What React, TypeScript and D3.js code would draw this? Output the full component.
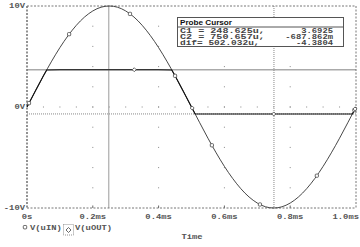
import React from 'react';
import * as d3 from 'd3';

// V(uIN): every 0.025 ms
const tIn = [0, 0.025, 0.05, 0.075, 0.1, 0.125, 0.15, 0.175, 0.2, 0.225, 0.25, 0.275, 0.3, 0.325, 0.35, 0.375, 0.4, 0.425, 0.45, 0.475, 0.5, 0.525, 0.55, 0.575, 0.6, 0.625, 0.65, 0.675, 0.7, 0.725, 0.75, 0.775, 0.8, 0.825, 0.85, 0.875, 0.9, 0.925, 0.95, 0.975, 1.0];
const vIn = [0, 1.56, 3.09, 4.54, 5.88, 7.07, 8.09, 8.91, 9.51, 9.88, 10, 9.88, 9.51, 8.91, 8.09, 7.07, 5.88, 4.54, 3.09, 1.56, 0, -1.56, -3.09, -4.54, -5.88, -7.07, -8.09, -8.91, -9.51, -9.88, -10, -9.88, -9.51, -8.91, -8.09, -7.07, -5.88, -4.54, -3.09, -1.56, 0];
// V(uOUT): clipped trace
const tOut = [0, 0.025, 0.05, 0.06, 0.1, 0.2, 0.3, 0.4, 0.44, 0.45, 0.475, 0.5, 0.511, 0.6, 0.7, 0.8, 0.9, 0.989, 1.0];
const vOut = [0, 1.56, 3.09, 3.66, 3.69, 3.69, 3.69, 3.69, 3.66, 3.09, 1.56, 0, -0.69, -0.69, -0.69, -0.69, -0.69, -0.69, 0];
// markers
const tMarkIn = [0.006, 0.128, 0.313, 0.45, 0.562, 0.708, 0.881, 0.995];
const vMarkIn = [0.38, 7.21, 9.22, 3.09, -3.79, -9.65, -6.8, -0.31];
const tMarkOut = [0.326, 0.502, 0.75, 0.997];
const vMarkOut = [3.69, -0.1, -0.69, -0.19];
// axes
const xTicks = [0, 0.2, 0.4, 0.6, 0.8, 1.0];
const xTickLabels = ['0s', '0.2ms', '0.4ms', '0.6ms', '0.8ms', '1.0ms'];
const yTicks = [10, 0, -10];
const yTickLabels = ['10V', '0V', '-10V'];
// cursors
const c1 = { t: 0.248625, v: 3.6925 };
const c2 = { t: 0.750657, v: -0.687862 };
const cursorRows = [
  ['C1  =  248.625u,', '3.6925'],
  ['C2  =  750.657u,', '-687.862m'],
  ['dif=  502.032u,', '-4.3804'],
];

const W = 360, H = 247;
const L = 27, R = 356, T = 6, B = 208;
const CW = 5.3; // monospace char width
const mono = 'Liberation Mono, DejaVu Sans Mono, monospace';

function MText({ x, y, s, anchor = 'start', fs = 7, fill = '#555', weight = 'bold' }: any) {
  const len = s.length * CW;
  let x0 = x;
  if (anchor === 'middle') x0 = x - len / 2;
  if (anchor === 'end') x0 = x - len;
  return (
    <text x={x0} y={y} fontFamily={mono} fontSize={fs} fontWeight={weight} fill={fill}
      textLength={len} lengthAdjust="spacingAndGlyphs">{s}</text>
  );
}

export default function App() {
  const x = d3.scaleLinear().domain([0, 1]).range([L, R]);
  const y = d3.scaleLinear().domain([-10, 10]).range([B, T]);
  const lineIn = d3.line<number>().x((d, i) => x(tIn[i])).y((d) => y(d)).curve(d3.curveNatural);
  const lineOut = d3.line<number>().x((d, i) => x(tOut[i])).y((d) => y(d));

  const dots: JSX.Element[] = [];
  [0.2, 0.4, 0.6, 0.8].forEach((tv) => {
    d3.range(-8, 9, 2).forEach((vv) => {
      dots.push(<rect key={`v${tv}_${vv}`} x={x(tv) - 0.5} y={y(vv) - 0.5} width={1} height={1} fill="#888" />);
    });
  });
  d3.range(0.05, 1, 0.05).forEach((tv) => {
    dots.push(<rect key={`h${tv}`} x={x(tv) - 0.5} y={y(0) - 0.5} width={1} height={1} fill="#888" />);
  });

  const boxL = 177, boxR = 343, boxT = 17, boxB = 46;

  return (
    <svg width={W} height={H} style={{ position: 'absolute', left: 0, top: 0, background: '#fff' }}>
      <rect x={0} y={0} width={W} height={H} fill="#fff" />
      {dots}
      {xTicks.slice(1, -1).map((tv) => (
        <line key={`bt${tv}`} x1={x(tv)} x2={x(tv)} y1={B} y2={B - 2.5} stroke="#666" strokeWidth={1} />
      ))}
      <line x1={x(c1.t)} x2={x(c1.t)} y1={T} y2={B} stroke="#9a9a9a" strokeWidth={1} />
      <line x1={L} x2={R} y1={y(c1.v)} y2={y(c1.v)} stroke="#aaa" strokeWidth={1.5} />
      <line x1={x(c2.t)} x2={x(c2.t)} y1={T} y2={B} stroke="#888" strokeWidth={1} strokeDasharray="1,1" />
      <line x1={L} x2={R} y1={y(c2.v)} y2={y(c2.v)} stroke="#888" strokeWidth={1} strokeDasharray="1,1" />
      <line x1={L} x2={R} y1={T} y2={T} stroke="#777" strokeWidth={1} strokeDasharray="2,1.5" />
      <line x1={L} x2={R} y1={B} y2={B} stroke="#777" strokeWidth={1} strokeDasharray="2,1.5" />
      <line x1={L} x2={L} y1={T} y2={B} stroke="#777" strokeWidth={1.6} strokeDasharray="2,1.5" />
      <line x1={R} x2={R} y1={T} y2={B} stroke="#777" strokeWidth={1} strokeDasharray="2,1.5" />
      <path d={lineIn(vIn) || ''} fill="none" stroke="#333" strokeWidth={0.9} />
      <path d={lineOut(vOut) || ''} fill="none" stroke="#111" strokeWidth={1.1} />
      {tMarkIn.map((tv, i) => (
        <rect key={`mi${i}`} x={x(tv) - 1.6} y={y(vMarkIn[i]) - 1.6} width={3.2} height={3.2} rx={0.8}
          fill="#fff" stroke="#444" strokeWidth={0.8} />
      ))}
      {tMarkOut.map((tv, i) => {
        const cx = x(tv), cy = y(vMarkOut[i]);
        return <path key={`mo${i}`} d={`M${cx},${cy - 2}L${cx + 2},${cy}L${cx},${cy + 2}L${cx - 2},${cy}Z`}
          fill="#fff" stroke="#444" strokeWidth={0.8} />;
      })}
      {yTicks.map((v, i) => (
        <MText key={`yl${i}`} x={25} y={y(v) + 1.8} s={yTickLabels[i]} anchor="end" />
      ))}
      {xTicks.map((tv, i) => (
        <MText key={`xl${i}`} x={i === xTicks.length - 1 ? 359 : x(tv)} y={219} s={xTickLabels[i]}
          anchor={i === xTicks.length - 1 ? 'end' : 'middle'} />
      ))}
      <MText x={192} y={239} s="Time" anchor="middle" />
      <rect x={23.3} y={225.5} width={3.4} height={3.4} rx={0.8} fill="#fff" stroke="#444" strokeWidth={0.8} />
      <MText x={30} y={230} s="V(uIN)" />
      <rect x={63.5} y={224.5} width={10} height={10.5} fill="none" stroke="#777" strokeWidth={0.8} strokeDasharray="1,1" />
      <path d="M68.5,227.5L71,230L68.5,232.5L66,230Z" fill="#fff" stroke="#444" strokeWidth={0.8} />
      <MText x={75} y={230} s="V(uOUT)" />
      <rect x={boxL + 0.5} y={boxT + 0.5} width={boxR - boxL} height={boxB - boxT} fill="#fff" stroke="#555" strokeWidth={1} />
      <line x1={boxL} x2={boxR} y1={27} y2={27} stroke="#555" strokeWidth={1} />
      <text x={180} y={25} fontFamily="Liberation Sans, Arial, sans-serif" fontSize={7.5} fontWeight="bold" fill="#111"
        textLength={52} lengthAdjust="spacingAndGlyphs">Probe Cursor</text>
      {cursorRows.map((r, i) => (
        <g key={`cr${i}`}>
          <MText x={180} y={33 + i * 6} s={r[0]} fs={6.5} fill="#444" />
          <MText x={333} y={33 + i * 6} s={r[1]} fs={6.5} fill="#444" anchor="end" />
        </g>
      ))}
    </svg>
  );
}
